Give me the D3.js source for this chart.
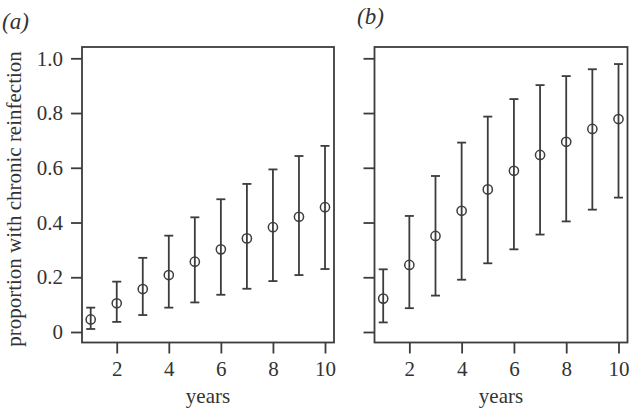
<!DOCTYPE html>
<html>
<head>
<meta charset="utf-8">
<script src="https://cdn.jsdelivr.net/npm/d3@7"></script>
<style>
  body { margin: 0; background: #fff; }
  text { font-family: "Liberation Serif", "Times New Roman", serif; fill: #333; }
</style>
</head>
<body>
<div id="chart"></div>
<script>
// constantes
const w = 630;
const h = 410;

// données
const years = [1, 2, 3, 4, 5, 6, 7, 8, 9, 10];
const estA = [0.046, 0.105, 0.157, 0.208, 0.257, 0.302, 0.342, 0.383, 0.421, 0.456];
const lowA = [0.011, 0.037, 0.062, 0.089, 0.108, 0.136, 0.158, 0.186, 0.208, 0.230];
const highA = [0.089, 0.184, 0.271, 0.352, 0.419, 0.485, 0.541, 0.594, 0.643, 0.680];
const estB = [0.122, 0.245, 0.351, 0.443, 0.521, 0.589, 0.647, 0.695, 0.742, 0.778];
const lowB = [0.035, 0.087, 0.133, 0.191, 0.251, 0.302, 0.356, 0.404, 0.447, 0.491];
const highB = [0.229, 0.424, 0.570, 0.692, 0.787, 0.851, 0.902, 0.935, 0.960, 0.979];
const yTicks = [0, 0.2, 0.4, 0.6, 0.8, 1.0];
const yTickLabels = ["0", "0.2", "0.4", "0.6", "0.8", "1.0"];
const xTicks = [2, 4, 6, 8, 10];
const panelNames = ["(a)", "(b)"];

const svg = d3.select("#chart")
    .append("svg")
    .attr("width", w)
    .attr("height", h);

const col = "#3c3c3c";
const fontSize = 21;

const yScale = d3.scaleLinear()
    .domain([0, 1])
    .range([332, 58.3]);

// un panneau
function panel(left, right, est, low, high, showLabels) {
    const top = 47, bottom = 342.5;
    // années 1 -> 10
    const xScale = d3.scaleLinear()
        .domain([1, 10])
        .range([left + 8.7, right - 9]);

    const g = svg.append("g");

    g.append("rect")
        .attr("x", left)
        .attr("y", top)
        .attr("width", right - left)
        .attr("height", bottom - top)
        .attr("fill", "none")
        .attr("stroke", col)
        .attr("stroke-width", 1.8);

    // axe y
    const axeY = d3.axisLeft(yScale)
        .tickValues(yTicks)
        .tickSize(11)
        .tickPadding(8)
        .tickFormat((d, i) => showLabels ? yTickLabels[i] : "");
    const gy = g.append("g")
        .attr("transform", "translate(" + left + ",0)")
        .call(axeY);
    gy.select(".domain").remove();
    gy.selectAll("line").attr("stroke", col).attr("stroke-width", 1.8);
    gy.selectAll("text").attr("font-size", fontSize).attr("fill", "#333")
        .style("font-family", "'Liberation Serif', serif");

    // axe x
    const axeX = d3.axisBottom(xScale)
        .tickValues(xTicks)
        .tickSize(11)
        .tickPadding(8);
    const gx = g.append("g")
        .attr("transform", "translate(0," + bottom + ")")
        .call(axeX);
    gx.select(".domain").remove();
    gx.selectAll("line").attr("stroke", col).attr("stroke-width", 1.8);
    gx.selectAll("text").attr("font-size", fontSize).attr("fill", "#333")
        .style("font-family", "'Liberation Serif', serif");

    // barres d'erreur
    const cap = 4.5;
    g.selectAll(".bar").data(years).enter()
        .append("line")
        .attr("x1", d => xScale(d))
        .attr("x2", d => xScale(d))
        .attr("y1", (d, i) => yScale(low[i]))
        .attr("y2", (d, i) => yScale(high[i]))
        .attr("stroke", col)
        .attr("stroke-width", 1.8);
    g.selectAll(".capH").data(years).enter()
        .append("line")
        .attr("x1", d => xScale(d) - cap)
        .attr("x2", d => xScale(d) + cap)
        .attr("y1", (d, i) => yScale(high[i]))
        .attr("y2", (d, i) => yScale(high[i]))
        .attr("stroke", col)
        .attr("stroke-width", 1.8);
    g.selectAll(".capL").data(years).enter()
        .append("line")
        .attr("x1", d => xScale(d) - cap)
        .attr("x2", d => xScale(d) + cap)
        .attr("y1", (d, i) => yScale(low[i]))
        .attr("y2", (d, i) => yScale(low[i]))
        .attr("stroke", col)
        .attr("stroke-width", 1.8);

    // points (cercles vides, la barre passe au travers)
    g.selectAll("circle").data(years).enter()
        .append("circle")
        .attr("cx", d => xScale(d))
        .attr("cy", (d, i) => yScale(est[i]))
        .attr("r", 4.6)
        .attr("fill", "none")
        .attr("stroke", col)
        .attr("stroke-width", 1.5);

    // titre x
    g.append("text")
        .attr("x", (left + right) / 2)
        .attr("y", 403)
        .attr("text-anchor", "middle")
        .attr("font-size", fontSize)
        .text("years");
}

panel(82, 334, estA, lowA, highA, true);
panel(374.5, 627.5, estB, lowB, highB, false);

// étiquettes des panneaux
svg.append("text")
    .attr("x", 2)
    .attr("y", 29)
    .attr("font-size", 23)
    .attr("font-style", "italic")
    .text(panelNames[0]);
svg.append("text")
    .attr("x", 357)
    .attr("y", 24)
    .attr("font-size", 23)
    .attr("font-style", "italic")
    .text(panelNames[1]);

// titre y
svg.append("text")
    .attr("transform", "translate(21,199) rotate(-90)")
    .attr("text-anchor", "middle")
    .attr("font-size", 21)
    .text("proportion with chronic reinfection");
</script>
</body>
</html>
